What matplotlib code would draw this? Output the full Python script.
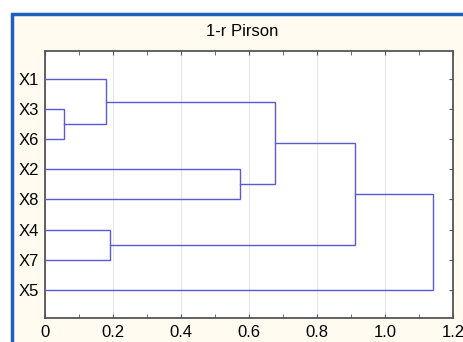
import matplotlib.pyplot as plt
from matplotlib.patches import Rectangle

# Leaf order (top to bottom) and merges: (left, right, height)
leaves = ["X1", "X3", "X6", "X2", "X8", "X4", "X7", "X5"]
merges = [
    ("X3", "X6", 0.057),
    ("X1", "X3+X6", 0.179),
    ("X4", "X7", 0.192),
    ("X2", "X8", 0.573),
    ("X1+X3+X6", "X2+X8", 0.676),
    ("X1+X3+X6+X2+X8", "X4+X7", 0.913),
    ("X1+X3+X6+X2+X8+X4+X7", "X5", 1.140),
]
x_ticks = [0, 0.2, 0.4, 0.6, 0.8, 1.0, 1.2]
x_tick_labels = ["0", "0.2", "0.4", "0.6", "0.8", "1.0", "1.2"]

plt.rcParams['font.family'] = ['Liberation Sans', 'DejaVu Sans']
line_col = "#5a5ad8"

fig = plt.figure(figsize=(4.63, 3.42), dpi=100)
fig.patch.set_facecolor("white")
W, H = 463, 342
# cream panel with blue border
fig.patches.append(Rectangle((12 / W, -0.05), 1.0, (H - 14) / H + 0.05,
                             transform=fig.transFigure, facecolor="#fffbf0",
                             edgecolor="#1f5fbf", linewidth=2.5, zorder=-5))

ax = fig.add_axes([45 / W, 1 - 318 / H, (453 - 45) / W, (318 - 51) / H])
ax.set_facecolor("white")

# node positions: y = position, x = height
pos = {name: i + 1 for i, name in enumerate(leaves)}
hgt = {name: 0.0 for name in leaves}
for a, b, h in merges:
    ya, yb = pos[a], pos[b]
    ax.plot([hgt[a], h, h, hgt[b]], [ya, ya, yb, yb], color=line_col, lw=1.0,
            solid_joinstyle="miter", zorder=3)
    new = a + "+" + b
    pos[new] = (ya + yb) / 2
    hgt[new] = h

ax.set_xlim(0, 1.2)
ax.set_ylim(8.95, 0.05)
ax.set_xticks(x_ticks)
ax.set_xticklabels(x_tick_labels, fontsize=12)
ax.set_xticks([0.1, 0.3, 0.5, 0.7, 0.9, 1.1], minor=True)
ax.set_yticks(range(1, len(leaves) + 1))
ax.set_yticklabels(leaves, fontsize=12)
ax.tick_params(axis="x", which="both", direction="in", top=True, length=3,
               color="#555555", pad=5)
ax.tick_params(axis="y", direction="in", left=False, right=True, length=3,
               color="#555555", pad=4)
ax.grid(axis="x", color="#e6e6e6", lw=0.8, zorder=0)
for s in ax.spines.values():
    s.set_color("#555555")
    s.set_linewidth(1.3)

fig.text(242 / W, 1 - 31 / H, "1-r Pirson", ha="center", va="center", fontsize=12)

fig.savefig("out.png", dpi=100)
